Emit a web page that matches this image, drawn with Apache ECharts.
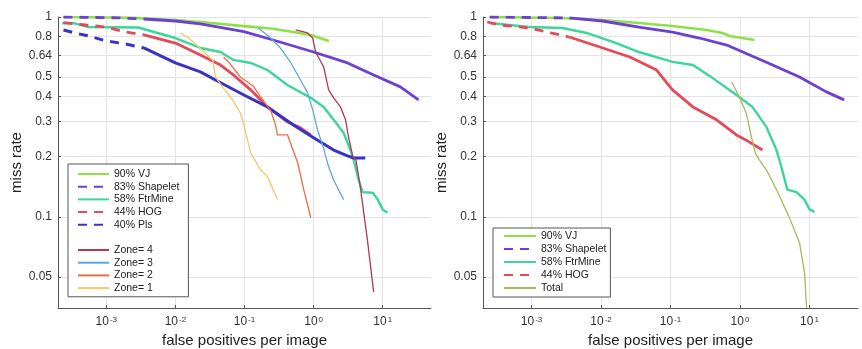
<!DOCTYPE html>
<html><head><meta charset="utf-8">
<script src="https://cdn.jsdelivr.net/npm/echarts@6/dist/echarts.min.js"></script>
<style>html,body{margin:0;padding:0;background:#fff}#c{width:862px;height:349px}</style>
</head><body><div id="c"></div>
<script>
// ---- axes ----
const xTickExps = [-3, -2, -1, 0, 1];
const yTickLabels = [0.05, 0.1, 0.2, 0.3, 0.4, 0.5, 0.64, 0.8, 1];
const xRange = [2e-4, 50];
const yRange = [0.035, 1];
const dashEnd = 0.0035; // dashed part of Shapelet/HOG/Pls ends here

// ---- left panel ----
const vjL_x = [2.4e-4, 0.0012, 2.45e-3, 0.01, 0.023, 0.098, 0.24, 0.51, 0.91, 1.66];
const vjL_y = [1.0, 0.995, 0.99, 0.966, 0.944, 0.90, 0.876, 0.841, 0.813, 0.759];
const shapeL_x = [2.4e-4, 0.0015, 0.0035, 0.01, 0.023, 0.098, 0.26, 1.0, 3.1, 7.4, 18, 33];
const shapeL_y = [1.0, 0.99, 0.977, 0.955, 0.923, 0.845, 0.767, 0.668, 0.589, 0.513, 0.447, 0.385];
const ftrL_x = [2.3e-4, 3.5e-4, 5.5e-4, 0.0029, 0.01, 0.023, 0.045, 0.069, 0.123, 0.215, 0.417, 0.91, 1.4, 1.95, 2.72, 3.4, 3.8, 4.5, 5.1, 7.2, 8.5, 10, 11.8];
const ftrL_y = [0.93, 0.93, 0.891, 0.886, 0.785, 0.70, 0.668, 0.61, 0.589, 0.543, 0.457, 0.394, 0.355, 0.306, 0.263, 0.216, 0.193, 0.153, 0.133, 0.132, 0.122, 0.109, 0.105];
const hogL_x = [2.4e-4, 5e-4, 9.7e-4, 0.0019, 0.0035, 0.01, 0.023, 0.045, 0.069, 0.123, 0.215, 0.417, 0.645, 0.91];
const hogL_y = [0.937, 0.912, 0.891, 0.841, 0.813, 0.741, 0.646, 0.575, 0.513, 0.432, 0.355, 0.299, 0.279, 0.257];
const plsL_x = [2.4e-4, 3.5e-4, 5.5e-4, 9.7e-4, 0.0019, 0.0035, 0.01, 0.023, 0.038, 0.098, 0.215, 0.51, 1.0, 1.95, 3.1, 3.8, 5.6];
const plsL_y = [0.861, 0.832, 0.804, 0.761, 0.733, 0.70, 0.589, 0.531, 0.484, 0.407, 0.355, 0.288, 0.249, 0.216, 0.202, 0.197, 0.197];
const zone4_x = [0.55, 0.82, 0.97, 1.07, 1.4, 1.65, 1.95, 2.45, 2.9, 3.2, 3.7, 4.1, 4.8, 6.0, 7.4];
const zone4_y = [0.861, 0.832, 0.785, 0.668, 0.562, 0.432, 0.394, 0.355, 0.306, 0.251, 0.2, 0.193, 0.137, 0.077, 0.042];
const zone3_x = [0.158, 0.24, 0.33, 0.47, 0.645, 0.82, 0.97, 1.14, 1.35, 1.65, 1.95, 2.72];
const zone3_y = [0.881, 0.785, 0.70, 0.589, 0.484, 0.417, 0.343, 0.272, 0.229, 0.178, 0.153, 0.122];
const zone2_x = [0.05, 0.059, 0.087, 0.135, 0.17, 0.24, 0.28, 0.30, 0.42, 0.59, 0.72, 0.91];
const zone2_y = [0.631, 0.596, 0.501, 0.45, 0.398, 0.34, 0.29, 0.257, 0.257, 0.186, 0.137, 0.099];
const zone1_x = [0.0117, 0.0155, 0.0245, 0.035, 0.038, 0.048, 0.067, 0.087, 0.098, 0.123, 0.17, 0.215, 0.30];
const zone1_y = [0.832, 0.785, 0.684, 0.603, 0.501, 0.447, 0.385, 0.331, 0.288, 0.209, 0.172, 0.159, 0.122];

// ---- right panel ----
const vjR_x = [2.5e-4, 0.0025, 0.0105, 0.035, 0.107, 0.33, 0.56, 0.71, 1.62];
const vjR_y = [1.0, 0.989, 0.966, 0.933, 0.902, 0.861, 0.832, 0.804, 0.767];
const shapeR_x = [2.5e-4, 0.0035, 0.0105, 0.035, 0.107, 0.26, 0.645, 1.38, 2.95, 7.2, 17.5, 31.6];
const shapeR_y = [1.0, 0.989, 0.955, 0.891, 0.841, 0.785, 0.724, 0.646, 0.575, 0.501, 0.422, 0.385];
const ftrR_x = [2.5e-4, 9.3e-4, 0.0028, 0.0062, 0.0166, 0.035, 0.107, 0.21, 0.40, 0.98, 1.51, 2.4, 3.35, 3.7, 4.8, 6.5, 8.5, 10, 11.8];
const ftrR_y = [0.933, 0.891, 0.881, 0.832, 0.741, 0.668, 0.596, 0.575, 0.496, 0.398, 0.355, 0.282, 0.216, 0.193, 0.137, 0.133, 0.122, 0.109, 0.106];
const hogR_x = [2.3e-4, 3.5e-4, 9.3e-4, 0.0019, 0.0035, 0.0096, 0.026, 0.063, 0.107, 0.21, 0.46, 0.89, 1.23, 2.1];
const hogR_y = [0.944, 0.912, 0.881, 0.832, 0.794, 0.708, 0.631, 0.543, 0.432, 0.355, 0.306, 0.257, 0.242, 0.216];
const totalR_x = [0.76, 0.98, 1.23, 1.46, 1.66, 1.9, 2.4, 3.35, 5.1, 7.2, 8.5, 9.1];
const totalR_y = [0.473, 0.398, 0.331, 0.251, 0.209, 0.193, 0.172, 0.137, 0.1, 0.0742, 0.0525, 0.035];

const L = Math.log10;
function pts(xs, ys, filt) {
  const out = [];
  xs.forEach((x, i) => { if (!filt || filt(x)) out.push([L(x), L(ys[i])]); });
  return out;
}
const C = {
  vj: '#8ee04a', shape: '#6c40d2', ftr: '#3bd69c', hog: '#e54a5a', pls: '#3a31c6',
  z4: '#b03a50', z3: '#5ca8de', z2: '#ea6e45', z1: '#f6c56e', total: '#aab65a'
};
const font = "'Liberation Sans', Arial, sans-serif";
const DASH = [9, 7];

function line(name, data, color, width, idx, dashed) {
  return {
    type: 'line', name, data, xAxisIndex: idx, yAxisIndex: idx,
    symbol: 'none', showSymbol: false, smooth: false, animation: false,
    color: color,
    lineStyle: { color, width, type: dashed ? DASH : 'solid', cap: 'butt', join: 'round' },
    emphasis: { disabled: true }
  };
}
function panelSeries(idx, d) {
  const s = [];
  s.push(line('90% VJ', pts(d.vj[0], d.vj[1]), C.vj, 2.6, idx, false));
  s.push(line('83% Shapelet', pts(d.sh[0], d.sh[1], x => x <= dashEnd), C.shape, 2.8, idx, true));
  s.push(line('83% Shapelet', pts(d.sh[0], d.sh[1], x => x >= dashEnd), C.shape, 2.8, idx, false));
  s.push(line('58% FtrMine', pts(d.ft[0], d.ft[1]), C.ftr, 2.4, idx, false));
  s.push(line('44% HOG', pts(d.hg[0], d.hg[1], x => x <= dashEnd), C.hog, 2.8, idx, true));
  s.push(line('44% HOG', pts(d.hg[0], d.hg[1], x => x >= dashEnd), C.hog, 2.8, idx, false));
  return s;
}
const series = [];
series.push(...panelSeries(0, { vj: [vjL_x, vjL_y], sh: [shapeL_x, shapeL_y], ft: [ftrL_x, ftrL_y], hg: [hogL_x, hogL_y] }));
series.push(line('40% Pls', pts(plsL_x, plsL_y, x => x <= dashEnd), C.pls, 3, 0, true));
series.push(line('40% Pls', pts(plsL_x, plsL_y, x => x >= dashEnd), C.pls, 3, 0, false));
series.push(line('Zone= 4', pts(zone4_x, zone4_y), C.z4, 1.3, 0, false));
series.push(line('Zone= 3', pts(zone3_x, zone3_y), C.z3, 1.3, 0, false));
series.push(line('Zone= 2', pts(zone2_x, zone2_y), C.z2, 1.3, 0, false));
series.push(line('Zone= 1', pts(zone1_x, zone1_y), C.z1, 1.3, 0, false));
series.push(...panelSeries(1, { vj: [vjR_x, vjR_y], sh: [shapeR_x, shapeR_y], ft: [ftrR_x, ftrR_y], hg: [hogR_x, hogR_y] }));
series.push(line('Total', pts(totalR_x, totalR_y), C.total, 1.3, 1, false));

const xTickVals = xTickExps.slice();
const yTickVals = yTickLabels.map(L);

function xAxis(idx) {
  return {
    type: 'value', gridIndex: idx, min: L(xRange[0]), max: L(xRange[1]),
    name: 'false positives per image', nameLocation: 'middle', nameGap: 25,
    nameTextStyle: { fontFamily: font, fontSize: 15, color: '#222' },
    axisLine: { show: true, onZero: false, lineStyle: { color: '#555', width: 1 } },
    axisTick: { show: true, inside: true, length: 3, customValues: xTickVals, lineStyle: { color: '#555' } },
    axisLabel: {
      customValues: xTickVals, margin: 8, fontFamily: font,
      formatter: v => '{b|10}{e|' + Math.round(v) + '}',
      rich: {
        b: { fontSize: 12, color: '#333', fontFamily: font },
        e: { fontSize: 8, color: '#333', fontFamily: font, verticalAlign: 'top', padding: [0, 0, 0, 1] }
      }
    },
    splitLine: { show: true, lineStyle: { color: '#e4e4e4', width: 1 } }
  };
}
function yAxis(idx) {
  return {
    type: 'value', gridIndex: idx, min: L(yRange[0]), max: L(yRange[1]),
    name: 'miss rate', nameLocation: 'middle', nameGap: 31,
    nameTextStyle: { fontFamily: font, fontSize: 15, color: '#222' },
    axisLine: { show: true, onZero: false, lineStyle: { color: '#555', width: 1 } },
    axisTick: { show: true, inside: true, length: 3, customValues: yTickVals, lineStyle: { color: '#555' } },
    axisLabel: {
      customValues: yTickVals, margin: 6, fontFamily: font, fontSize: 12, color: '#333',
      formatter: v => String(+Math.pow(10, v).toFixed(2))
    },
    splitLine: { show: true, lineStyle: { color: '#e4e4e4', width: 1 } }
  };
}

const legendText = { fontFamily: font, fontSize: 10.5, color: '#222', lineHeight: 12 };
const noSym = { opacity: 0, borderWidth: 0 };
const option = {
  backgroundColor: '#fff',
  animation: false,
  grid: [
    { left: 58, top: 17, width: 373, height: 291, outerBoundsMode: 'none', containLabel: false },
    { left: 483, top: 17, width: 375, height: 291, outerBoundsMode: 'none', containLabel: false }
  ],
  xAxis: [xAxis(0), xAxis(1)],
  yAxis: [yAxis(0), yAxis(1)],
  legend: [
    {
      left: 68, top: 164, orient: 'vertical', selectedMode: false,
      padding: [4, 9, 66, 9], borderColor: '#555', borderWidth: 1, backgroundColor: '#fff',
      itemWidth: 31, itemHeight: 10, itemGap: 0.7, textStyle: legendText, itemStyle: noSym,
      data: ['90% VJ', '83% Shapelet', '58% FtrMine', '44% HOG', '40% Pls']
    },
    {
      left: 68, top: 244, orient: 'vertical', selectedMode: false,
      padding: [0, 9, 0, 9],
      itemWidth: 31, itemHeight: 10, itemGap: 0.7, textStyle: legendText, itemStyle: noSym,
      data: ['Zone= 4', 'Zone= 3', 'Zone= 2', 'Zone= 1']
    },
    {
      left: 493, top: 228, orient: 'vertical', selectedMode: false,
      padding: [2, 4, 3, 10], borderColor: '#555', borderWidth: 1, backgroundColor: '#fff',
      itemWidth: 32, itemHeight: 10, itemGap: 1, textStyle: legendText, itemStyle: noSym,
      data: ['90% VJ', '83% Shapelet', '58% FtrMine', '44% HOG', 'Total']
    }
  ],
  series
};
const chart = echarts.init(document.getElementById('c'), null, { renderer: 'canvas' });
chart.setOption(option);
</script>
</body></html>
